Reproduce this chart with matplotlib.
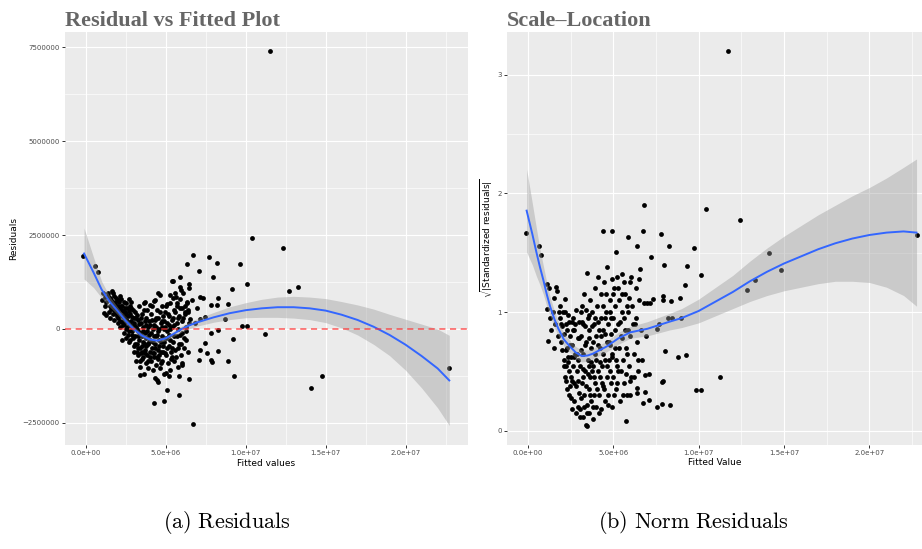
import numpy as np
import matplotlib.pyplot as plt
from matplotlib.ticker import FuncFormatter, MultipleLocator

# Residual vs fitted: (fitted, residual), both in millions
resid_points = [
    (-0.15, 1.94), (0.58, 1.69), (0.75, 1.51), (6.69, 1.98), (7.73, 1.92), (8.19, 1.75),
    (6.31, 1.72), (7.1, 1.55), (7.94, 1.39), (5.9, 1.39), (5.48, 1.28), (5.38, 1.28),
    (10.38, 2.43), (12.33, 2.15), (9.65, 1.73), (10.1, 1.19), (9.17, 1.06), (12.73, 1.0),
    (13.27, 1.13), (8.92, 0.66), (8.29, 0.83), (7.83, 0.63), (8.19, 0.63), (8.73, 0.27),
    (9.79, 0.09), (10.08, 0.09), (11.23, -0.14), (9.19, -0.27), (8.25, -0.02), (8.25, -0.58),
    (7.81, -0.12), (8.875, -0.86), (9.29, -1.25), (14.1, -1.58), (14.75, -1.25), (22.73, -1.05),
    (7.1, -0.82), (7.81, -0.82), (7.88, -0.89), (7.6, -0.63), (7.15, -0.56), (7.46, -0.38),
    (6.48, -1.33), (5.81, -1.25), (5.23, -1.25), (5.0, -1.18), (5.06, -1.62), (5.83, -1.77),
    (4.29, -1.98), (4.9, -1.93), (6.73, -2.54), (4.33, -1.31), (4.48, -1.37), (3.4, -1.22),
    (6.0, -0.9), (6.44, 1.08), (6.48, 1.2), (5.9, 1.13), (5.96, 1.04), (4.54, 0.95),
    (5.48, 0.82), (7.35, 0.82), (7.15, 0.84), (6.31, 0.73), (6.63, 0.77), (5.69, 0.68),
    (5.06, 0.66), (4.33, 0.77), (3.71, 0.73), (7.46, 0.31), (7.15, 0.26), (6.52, 0.26),
    (6.83, 0.15), (6.21, 0.46), (6.0, 0.55), (6.94, 0.55), (6.42, 0.51), (1.62, 1.02),
    (1.0, 0.77), (1.16, 0.42), (2.04, 0.77), (1.41, 0.95), (1.2, 0.61), (1.94, 0.55),
    (1.1, 0.95), (1.2, 0.85), (1.3, 0.72), (1.4, 0.88), (1.5, 0.6), (1.6, 0.78),
    (1.7, 0.95), (1.75, 0.5), (1.85, 0.68), (1.9, 0.82), (2.0, 0.45), (2.0, 0.6),
    (1.25, 0.38), (1.45, 0.45), (1.55, 0.3), (1.8, 0.25), (1.95, 0.35), (2.1, 0.72),
    (2.15, 0.2), (2.2, 0.5), (2.2, 0.8), (2.3, 0.62), (2.3, 0.35), (2.35, 0.1),
    (2.4, -0.1), (2.45, 0.45), (2.5, 0.7), (2.5, 0.25), (2.55, -0.25), (2.6, 0.05),
    (2.6, 0.55), (2.65, 0.35), (2.7, -0.05), (2.7, 0.15), (2.75, 0.6), (2.8, -0.3),
    (2.8, 0.4), (2.85, 0.2), (2.9, -0.15), (2.9, 0.0), (2.95, 0.5), (3.0, -0.45),
    (3.0, 0.3), (2.25, -0.3), (2.4, 0.3), (2.15, 0.05), (2.05, 0.15), (2.7, 0.8),
    (2.85, 0.72), (2.55, 0.4), (3.05, -0.6), (3.05, 0.1), (3.1, -0.2), (3.1, 0.45),
    (3.15, -0.85), (3.2, 0.0), (3.2, -0.4), (3.25, 0.25), (3.3, -0.7), (3.3, -0.05),
    (3.35, 0.6), (3.35, -0.3), (3.4, -1.0), (3.4, -0.5), (3.45, 0.15), (3.5, -0.2),
    (3.5, -0.8), (3.5, 0.4), (3.55, -0.6), (3.6, 0.05), (3.6, -0.35), (3.65, -1.2),
    (3.65, 0.7), (3.7, -0.1), (3.7, -0.55), (3.75, 0.3), (3.75, -0.9), (3.8, -0.25),
    (3.8, 0.1), (3.85, -0.7), (3.85, 0.5), (3.9, -0.4), (3.9, -1.05), (3.95, 0.2),
    (3.95, -0.15), (4.0, -0.6), (4.0, 0.65), (3.45, -0.65), (3.6, -0.75), (3.25, -0.5),
    (3.15, 0.3), (3.7, -0.4), (4.05, -0.3), (4.05, 0.1), (4.1, -0.85), (4.1, 0.4),
    (4.15, -0.5), (4.2, -1.1), (4.2, 0.0), (4.25, -0.2), (4.25, 0.75), (4.3, -0.65),
    (4.35, 0.25), (4.35, -0.4), (4.4, -0.95), (4.4, 0.05), (4.45, 0.5), (4.45, -0.15),
    (4.5, -0.55), (4.5, -1.4), (4.55, 0.3), (4.55, -0.8), (4.6, 0.0), (4.6, -0.3),
    (4.65, 0.9), (4.65, -1.05), (4.7, -0.6), (4.7, 0.15), (4.75, -0.2), (4.75, 0.6),
    (4.8, -0.85), (4.85, -0.45), (4.85, 0.35), (4.9, 0.0), (4.9, -1.2), (4.95, -0.65),
    (4.95, 0.45), (5.0, -0.25), (4.3, -0.75), (4.6, -0.7), (4.8, 0.2), (4.15, 0.6),
    (5.05, 0.6), (5.1, -0.5), (5.1, 0.15), (5.15, -0.9), (5.2, 0.35), (5.2, -0.15),
    (5.25, -1.1), (5.3, 0.0), (5.3, 0.7), (5.35, -0.6), (5.4, 0.25), (5.45, -0.35),
    (5.5, -0.85), (5.5, 0.5), (5.55, 0.1), (5.6, -0.55), (5.65, 0.85), (5.7, -0.2),
    (5.75, -1.0), (5.75, 0.3), (5.8, 0.0), (5.85, -0.4), (5.9, 0.55), (5.95, -0.7),
    (6.0, 0.2), (6.05, -0.1), (6.1, 0.95), (6.15, -0.5), (6.2, 0.4), (6.25, 0.05),
    (6.3, -0.3), (6.35, 0.7), (6.4, -0.6), (6.45, 0.15), (5.6, 0.95), (5.25, 0.9),
    (6.0, -0.95), (5.4, -0.75), (11.5, 7.4),
]

# more points from the dense part of the residual cloud
resid_points_dense = [
    (1.52, 0.82), (1.58, 0.52), (1.62, 0.65), (1.68, 0.4), (1.72, 0.72), (1.78, 0.88),
    (1.82, 0.55), (1.88, 0.42), (1.92, 0.62), (1.98, 0.78), (2.02, 0.3), (2.08, 0.52),
    (2.12, 0.88), (2.18, 0.36), (2.22, 0.62), (2.28, 0.18), (2.32, 0.48), (2.38, 0.72),
    (2.42, 0.12), (2.48, 0.55), (2.52, 0.0), (2.58, 0.22), (2.62, -0.15), (2.68, 0.48),
    (2.72, -0.35), (2.78, 0.1), (2.82, 0.55), (2.88, -0.05), (2.92, 0.32), (2.98, -0.25),
    (3.02, 0.15), (3.08, -0.4), (3.12, 0.05), (3.18, -0.6), (3.22, 0.38), (3.28, -0.2),
    (3.32, 0.12), (3.38, -0.85), (3.42, -0.1), (3.48, 0.28), (3.52, -0.45), (3.58, -0.05),
    (3.62, 0.5), (3.68, -0.65), (3.72, 0.2), (3.78, -0.45), (3.82, -0.05), (3.88, -0.85),
    (3.92, 0.05), (3.98, -0.35), (4.02, -0.75), (4.08, -0.1), (4.12, 0.25), (4.18, -0.65),
    (4.22, -0.35), (4.28, 0.1), (4.32, -0.5), (4.38, -0.2), (4.42, 0.3), (4.48, -0.75),
    (4.52, -0.05), (4.58, -0.45), (4.62, 0.45), (4.68, -0.9), (4.72, -0.35), (4.78, 0.05),
    (4.82, -0.6), (4.88, 0.2), (4.92, -0.35), (4.98, 0.05), (5.02, -0.7), (5.08, -0.05),
    (5.12, 0.4), (5.18, -0.45), (5.22, 0.1), (5.28, -0.3), (5.32, -0.8), (5.38, 0.05),
    (5.42, -0.5), (5.48, 0.3), (5.52, -0.2), (5.58, 0.45), (5.62, -0.75), (5.68, 0.15),
    (5.72, 0.6), (5.78, -0.5), (5.82, 0.35), (5.88, -0.15), (5.92, 0.8), (5.98, -0.4),
    (6.08, 0.3), (6.12, -0.25), (6.18, 0.6), (6.28, -0.05), (6.38, 0.45),
]

# loess smooth for the residual plot (millions)
resid_fit_x = [-0.1, 0.5, 1.0, 1.5, 2.0, 2.5, 3.0, 3.5, 4.0, 4.5, 5.0, 5.5, 6.0, 6.5, 7.0,
               8.0, 9.0, 10.0, 11.0, 12.0, 13.0, 14.0, 15.0, 16.0, 17.0, 18.0, 19.0, 20.0,
               21.0, 22.0, 22.73]
resid_fit_y = [2.01, 1.5, 1.05, 0.73, 0.48, 0.22, 0.0, -0.17, -0.28, -0.31, -0.25, -0.13,
               0.0, 0.1, 0.18, 0.31, 0.42, 0.5, 0.55, 0.58, 0.58, 0.55, 0.49, 0.38, 0.24,
               0.06, -0.16, -0.42, -0.72, -1.05, -1.37]
resid_fit_se = [0.68, 0.4, 0.22, 0.14, 0.1, 0.08, 0.07, 0.065, 0.06, 0.06, 0.06, 0.07,
                0.08, 0.09, 0.1, 0.13, 0.17, 0.2, 0.24, 0.27, 0.29, 0.3, 0.32, 0.35, 0.4,
                0.47, 0.55, 0.68, 0.85, 1.05, 1.2]

# Scale-location: (fitted in millions, sqrt|standardized residual|)
scale_points = [
    (-0.1, 1.666), (0.63, 1.56), (0.78, 1.48), (22.8, 1.65), (14.14, 1.5), (14.82, 1.354),
    (13.31, 1.275), (12.8, 1.19), (12.39, 1.775), (10.41, 1.865), (6.78, 1.905), (10.16, 1.31),
    (11.7, 3.2), (11.27, 0.455), (9.86, 0.348), (10.16, 0.348), (9.71, 1.54), (9.33, 1.39),
    (9.2, 1.23), (8.88, 1.12), (8.96, 0.95), (9.25, 0.64), (8.76, 0.62), (8.24, 1.56),
    (7.96, 1.4), (7.78, 1.66), (7.88, 1.14), (7.88, 1.1), (8.35, 1.09), (8.0, 0.67),
    (7.84, 0.41), (7.92, 0.42), (7.84, 0.225), (8.31, 0.216), (7.53, 0.197), (7.1, 0.264),
    (6.88, 0.326), (6.73, 0.236), (7.18, 1.466), (6.71, 1.68), (6.39, 1.556), (5.88, 1.63),
    (4.94, 1.68), (4.37, 1.685), (5.14, 1.506), (5.73, 0.084), (3.43, 0.042), (6.37, 0.323),
    (6.41, 0.357), (6.88, 0.47), (7.1, 0.48), (7.57, 0.862), (7.67, 0.9), (8.2, 0.947),
    (8.43, 0.947), (6.59, 1.36), (6.53, 1.28), (7.3, 1.107), (7.14, 1.08),
    (1.1, 1.24), (1.25, 1.2), (1.65, 1.21), (1.7, 1.18), (1.1, 1.03), (1.5, 1.12),
    (2.15, 1.11), (1.9, 1.05), (1.3, 0.95), (1.45, 1.0), (1.2, 0.76), (1.6, 0.9),
    (1.75, 0.8), (1.85, 0.95), (1.95, 0.75), (2.0, 0.88), (1.35, 0.85), (1.55, 0.7),
    (1.8, 1.0), (2.05, 1.0), (2.1, 0.6), (2.15, 0.45), (2.2, 0.9), (2.25, 0.55),
    (2.3, 0.7), (2.3, 0.35), (2.35, 0.98), (2.4, 0.5), (2.45, 0.8), (2.5, 0.28),
    (2.5, 0.62), (2.55, 0.92), (2.6, 0.42), (2.6, 0.72), (2.65, 0.55), (2.7, 0.25),
    (2.7, 0.85), (2.75, 0.65), (2.8, 0.38), (2.8, 1.02), (2.85, 0.5), (2.9, 0.78),
    (2.9, 0.2), (2.95, 0.6), (3.0, 0.32), (3.0, 0.92), (2.2, 0.68), (2.45, 0.38),
    (2.65, 0.95), (2.35, 0.62), (3.05, 0.55), (3.05, 0.18), (3.1, 0.8), (3.1, 1.0),
    (3.15, 0.4), (3.2, 0.65), (3.2, 0.12), (3.25, 0.9), (3.3, 0.3), (3.3, 1.15),
    (3.35, 0.5), (3.4, 0.75), (3.4, 0.05), (3.45, 0.22), (3.45, 1.33), (3.5, 0.95),
    (3.5, 0.6), (3.55, 0.35), (3.6, 0.15), (3.6, 0.85), (3.65, 1.1), (3.65, 0.45),
    (3.7, 0.7), (3.7, 0.25), (3.75, 1.0), (3.8, 0.55), (3.8, 0.1), (3.85, 0.3),
    (3.85, 0.9), (3.9, 0.65), (3.9, 1.2), (3.95, 0.4), (4.0, 0.8), (4.0, 0.2),
    (3.25, 0.45), (3.55, 0.78), (3.75, 0.5), (3.35, 0.88), (3.15, 1.05), (3.6, 0.55),
    (4.05, 1.05), (4.1, 0.5), (4.1, 1.3), (4.15, 0.3), (4.2, 0.7), (4.25, 0.95),
    (4.3, 0.18), (4.3, 1.15), (4.35, 0.55), (4.4, 0.38), (4.4, 0.85), (4.45, 1.25),
    (4.5, 0.6), (4.5, 0.25), (4.55, 1.0), (4.6, 0.45), (4.6, 0.75), (4.65, 1.38),
    (4.7, 0.3), (4.7, 0.9), (4.75, 0.6), (4.8, 1.1), (4.85, 0.4), (4.85, 0.82),
    (4.9, 0.2), (4.9, 1.28), (4.95, 0.65), (5.0, 0.95), (5.0, 0.45), (4.2, 0.45),
    (4.5, 0.95), (4.8, 0.72), (4.15, 0.85), (5.05, 1.2), (5.1, 0.7), (5.15, 0.35),
    (5.2, 1.3), (5.25, 0.9), (5.3, 0.5), (5.35, 1.1), (5.4, 0.25), (5.45, 0.8),
    (5.5, 1.32), (5.55, 0.6), (5.6, 0.95), (5.65, 0.4), (5.7, 1.15), (5.75, 0.7),
    (5.8, 0.3), (5.85, 1.0), (5.9, 0.55), (5.95, 1.25), (6.0, 0.8), (6.05, 0.45),
    (6.1, 1.05), (6.2, 0.65), (6.25, 0.9), (6.3, 1.2), (6.4, 0.75), (6.45, 0.5),
    (6.5, 1.1), (6.6, 0.85), (6.7, 0.6), (6.8, 1.08), (6.9, 0.8), (7.0, 1.08),
    (5.5, 1.0), (5.2, 0.55), (5.95, 0.3),
]

# more points from the dense part of the scale-location cloud
scale_points_dense = [
    (1.95, 0.9), (2.02, 0.68), (2.08, 0.82), (2.12, 0.55), (2.18, 1.0), (2.22, 0.42),
    (2.28, 0.85), (2.32, 0.58), (2.38, 0.3), (2.42, 0.92), (2.48, 0.72), (2.52, 0.45),
    (2.58, 0.18), (2.62, 0.85), (2.68, 0.4), (2.72, 0.62), (2.78, 0.9), (2.82, 0.15),
    (2.88, 0.65), (2.92, 0.42), (2.98, 0.78), (3.02, 0.12), (3.08, 0.68), (3.12, 0.28),
    (3.18, 0.92), (3.22, 0.52), (3.28, 0.2), (3.32, 0.72), (3.38, 0.38), (3.42, 1.02),
    (3.48, 0.15), (3.52, 0.48), (3.58, 0.98), (3.62, 0.3), (3.68, 0.58), (3.72, 0.88),
    (3.78, 0.2), (3.82, 0.75), (3.88, 0.45), (3.92, 0.95), (3.98, 0.6), (4.02, 0.35),
    (4.08, 0.72), (4.12, 0.92), (4.18, 0.15), (4.22, 0.58), (4.28, 0.8), (4.32, 0.4),
    (4.38, 1.05), (4.42, 0.65), (4.48, 0.35), (4.52, 0.82), (4.58, 1.15), (4.62, 0.55),
    (4.68, 0.22), (4.72, 0.75), (4.78, 1.0), (4.82, 0.5), (4.88, 0.95), (4.92, 0.62),
    (4.98, 1.15), (5.02, 0.3), (5.08, 0.85), (5.12, 1.05), (5.18, 0.6), (5.22, 0.4),
    (5.28, 1.2), (5.32, 0.7), (5.38, 0.92), (5.42, 0.5), (5.48, 1.15), (5.52, 0.78),
    (5.58, 0.3), (5.62, 1.25), (5.68, 0.85), (5.72, 0.48), (5.78, 1.05), (5.82, 0.65),
    (5.88, 0.85), (5.92, 1.12), (5.98, 0.42), (6.05, 1.3), (6.15, 0.9), (6.22, 0.45),
    (6.35, 0.95), (6.42, 0.6),
]

scale_fit_x = [-0.08, 0.25, 0.5, 0.7, 0.9, 1.1, 1.3, 1.55, 1.78, 2.1, 2.46, 2.8, 3.15, 3.5,
               3.8, 4.2, 4.6, 5.3, 6.0, 7.0, 8.3, 9.0, 10.0, 11.0, 12.0, 13.0, 14.0, 15.0,
               16.0, 17.0, 18.0, 19.0, 20.0, 21.0, 22.0, 22.76]
scale_fit_y = [1.855, 1.66, 1.5, 1.38, 1.27, 1.15, 1.045, 0.94, 0.86, 0.77, 0.71, 0.66, 0.63,
               0.635, 0.65, 0.68, 0.71, 0.78, 0.83, 0.86, 0.92, 0.95, 1.01, 1.09, 1.17, 1.26,
               1.34, 1.41, 1.47, 1.53, 1.58, 1.62, 1.65, 1.67, 1.68, 1.67]
scale_fit_se = [0.35, 0.26, 0.2, 0.15, 0.12, 0.1, 0.08, 0.07, 0.06, 0.055, 0.05, 0.05, 0.05,
                0.048, 0.045, 0.045, 0.045, 0.05, 0.05, 0.06, 0.07, 0.08, 0.1, 0.12, 0.14,
                0.17, 0.2, 0.23, 0.26, 0.29, 0.32, 0.36, 0.4, 0.46, 0.54, 0.62]

BG = "#EBEBEB"
TITLE_FONT = dict(family="Liberation Serif", weight="bold", size=16, color="#666666")


def sci_fmt(v, pos):
    return f"{v * 1e6:.1e}"


def int_fmt(v, pos):
    return f"{int(round(v * 1e6))}".replace("-", "\u2212")


def style_panel(ax, title):
    ax.set_facecolor(BG)
    for s in ax.spines.values():
        s.set_visible(False)
    ax.set_axisbelow(True)
    ax.grid(which="major", color="white", lw=0.85)
    ax.grid(which="minor", color="white", lw=0.45)
    ax.tick_params(which="major", length=2.2, width=0.7, color="#333333",
                   labelsize=5, labelcolor="#4D4D4D", pad=1.5)
    ax.tick_params(which="minor", length=0)
    ax.xaxis.set_major_locator(MultipleLocator(5))
    ax.xaxis.set_minor_locator(MultipleLocator(2.5))
    ax.xaxis.set_major_formatter(FuncFormatter(sci_fmt))
    ax.text(0, 1.015, title, transform=ax.transAxes, ha="left", va="baseline", **TITLE_FONT)


def draw_points(ax, *groups):
    for pts in groups:
        p = np.array(pts)
        ax.scatter(p[:, 0], p[:, 1], s=12, color="black", lw=0, zorder=2)


def draw_smooth(ax, fx, fy, fse):
    fx = np.array(fx)
    fy = np.array(fy)
    fse = np.array(fse)
    ax.fill_between(fx, fy - fse, fy + fse, color="#999999", alpha=0.4, lw=0, zorder=3)
    ax.plot(fx, fy, color="#3366FF", lw=1.4, zorder=4)


fig = plt.figure(figsize=(9.22, 5.49), dpi=100)

# left panel
ax1 = fig.add_axes([65 / 922, 1 - 445 / 549, 403 / 922, 413 / 549])
style_panel(ax1, "Residual vs Fitted Plot")
draw_points(ax1, resid_points, resid_points_dense)
draw_smooth(ax1, resid_fit_x, resid_fit_y, resid_fit_se)
ax1.axhline(0, color="#FF3333", lw=1.1, ls=(0, (4, 3)), alpha=0.8, zorder=5)
ax1.set_xlim(-1.29, 23.9)
ax1.set_ylim(-3.09, 7.91)
ax1.yaxis.set_major_locator(MultipleLocator(2.5))
ax1.yaxis.set_minor_locator(MultipleLocator(1.25))
ax1.yaxis.set_major_formatter(FuncFormatter(int_fmt))
ax1.set_xlabel("Fitted values", fontsize=6.5, labelpad=2)
ax1.set_ylabel("Residuals", fontsize=6.5, labelpad=3)

# right panel
ax2 = fig.add_axes([507 / 922, 1 - 444.5 / 549, 415 / 922, 412.5 / 549])
style_panel(ax2, "Scale\u2013Location")
draw_points(ax2, scale_points, scale_points_dense)
draw_smooth(ax2, scale_fit_x, scale_fit_y, scale_fit_se)
ax2.set_xlim(-1.23, 23.08)
ax2.set_ylim(-0.115, 3.36)
ax2.yaxis.set_major_locator(MultipleLocator(1))
ax2.yaxis.set_minor_locator(MultipleLocator(0.5))
ax2.yaxis.set_major_formatter(FuncFormatter(lambda v, p: f"{v:.0f}"))
ax2.set_xlabel("Fitted Value", fontsize=6.5, labelpad=2)
ax2.set_ylabel(r"$\sqrt{|\mathrm{Standardized\ residuals}|}$", fontsize=6.5,
               labelpad=2, math_fontfamily="dejavusans")

# captions
fig.text(227 / 922, 1 - 523 / 549, r"$\mathrm{(a)\ Residuals}$", ha="center", va="center",
         fontsize=16, math_fontfamily="cm")
fig.text(693 / 922, 1 - 523 / 549, r"$\mathrm{(b)\ Norm\ Residuals}$", ha="center", va="center",
         fontsize=16, math_fontfamily="cm")

fig.savefig("out.png", dpi=100)
